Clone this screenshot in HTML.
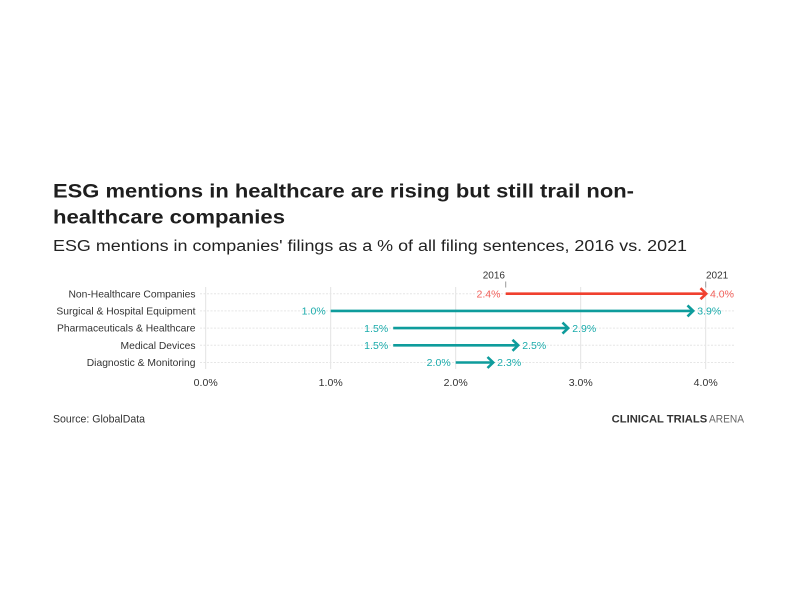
<!DOCTYPE html>
<html>
<head>
<meta charset="utf-8">
<style>
  html,body{margin:0;padding:0;background:#fff;}
  svg{display:block;}
  text{font-family:"Liberation Sans",sans-serif;}
</style>
</head>
<body>
<svg width="800" height="600" viewBox="0 0 800 600" xmlns="http://www.w3.org/2000/svg">
  <rect width="800" height="600" fill="#fff"/>
  <!-- Title -->
  <text x="53" y="197.3" font-size="19.5" font-weight="bold" fill="#1e1e1e" textLength="581" lengthAdjust="spacingAndGlyphs">ESG mentions in healthcare are rising but still trail non-</text>
  <text x="53" y="223.3" font-size="19.5" font-weight="bold" fill="#1e1e1e" textLength="232" lengthAdjust="spacingAndGlyphs">healthcare companies</text>
  <text x="53" y="251" font-size="15.5" fill="#222" textLength="634" lengthAdjust="spacingAndGlyphs">ESG mentions in companies' filings as a % of all filing sentences, 2016 vs. 2021</text>

  <!-- vertical gridlines -->
  <g stroke="#e3e3e3" stroke-width="1">
    <line x1="205.7" y1="287" x2="205.7" y2="369"/>
    <line x1="330.7" y1="287" x2="330.7" y2="369"/>
    <line x1="455.7" y1="287" x2="455.7" y2="369"/>
    <line x1="580.7" y1="287" x2="580.7" y2="369"/>
    <line x1="705.7" y1="287" x2="705.7" y2="369"/>
  </g>
  <!-- row gridlines -->
  <g stroke="#e6e6e6" stroke-width="1" stroke-dasharray="2,1.5">
    <line x1="200" y1="293.7" x2="735" y2="293.7"/>
    <line x1="200" y1="310.9" x2="735" y2="310.9"/>
    <line x1="200" y1="328.1" x2="735" y2="328.1"/>
    <line x1="200" y1="345.3" x2="735" y2="345.3"/>
    <line x1="200" y1="362.5" x2="735" y2="362.5"/>
  </g>

  <!-- year labels -->
  <text x="505" y="278.5" font-size="10" fill="#333" text-anchor="end">2016</text>
  <line x1="505.7" y1="281.5" x2="505.7" y2="287.5" stroke="#999" stroke-width="1"/>
  <text x="706" y="278.5" font-size="10" fill="#333" text-anchor="start">2021</text>
  <line x1="705.7" y1="281.5" x2="705.7" y2="287.5" stroke="#999" stroke-width="1"/>

  <!-- category labels -->
  <g font-size="10.3" fill="#333" text-anchor="end">
    <text x="195.5" y="297.3">Non-Healthcare Companies</text>
    <text x="195.5" y="314.5">Surgical &amp; Hospital Equipment</text>
    <text x="195.5" y="331.7">Pharmaceuticals &amp; Healthcare</text>
    <text x="195.5" y="348.9">Medical Devices</text>
    <text x="195.5" y="366.1">Diagnostic &amp; Monitoring</text>
  </g>

  <!-- Arrows -->
  <g stroke="#f0402f" stroke-width="2.6" fill="none" stroke-linejoin="miter">
    <line x1="505.7" y1="293.7" x2="705" y2="293.7"/>
    <polyline points="700.5,288.2 706.2,293.7 700.5,299.2"/>
  </g>
  <text x="500.5" y="297.4" font-size="10.5" fill="#f2605a" text-anchor="end" textLength="24" lengthAdjust="spacingAndGlyphs">2.4%</text>
  <text x="710" y="297.4" font-size="10.5" fill="#f2605a" text-anchor="start" textLength="24" lengthAdjust="spacingAndGlyphs">4.0%</text>

  <g stroke="#0e9c9c" stroke-width="2.6" fill="none" stroke-linejoin="miter">
    <line x1="330.7" y1="310.9" x2="692.5" y2="310.9"/>
    <polyline points="687.5,305.4 693.2,310.9 687.5,316.4"/>
    <line x1="393.2" y1="328.1" x2="567.5" y2="328.1"/>
    <polyline points="562.5,322.6 568.2,328.1 562.5,333.6"/>
    <line x1="393.2" y1="345.3" x2="517.5" y2="345.3"/>
    <polyline points="512.5,339.8 518.2,345.3 512.5,350.8"/>
    <line x1="455.7" y1="362.5" x2="492.5" y2="362.5"/>
    <polyline points="487.5,357 493.2,362.5 487.5,368"/>
  </g>
  <g font-size="10.5" fill="#1aabab">
    <text x="325.7" y="314.6" text-anchor="end" textLength="24" lengthAdjust="spacingAndGlyphs">1.0%</text>
    <text x="697.2" y="314.6" text-anchor="start" textLength="24" lengthAdjust="spacingAndGlyphs">3.9%</text>
    <text x="388.2" y="331.8" text-anchor="end" textLength="24" lengthAdjust="spacingAndGlyphs">1.5%</text>
    <text x="572.2" y="331.8" text-anchor="start" textLength="24" lengthAdjust="spacingAndGlyphs">2.9%</text>
    <text x="388.2" y="349" text-anchor="end" textLength="24" lengthAdjust="spacingAndGlyphs">1.5%</text>
    <text x="522.2" y="349" text-anchor="start" textLength="24" lengthAdjust="spacingAndGlyphs">2.5%</text>
    <text x="450.7" y="366.2" text-anchor="end" textLength="24" lengthAdjust="spacingAndGlyphs">2.0%</text>
    <text x="497.2" y="366.2" text-anchor="start" textLength="24" lengthAdjust="spacingAndGlyphs">2.3%</text>
  </g>

  <!-- x tick labels -->
  <g font-size="10.5" fill="#333" text-anchor="middle">
    <text x="205.7" y="386" textLength="24" lengthAdjust="spacingAndGlyphs">0.0%</text>
    <text x="330.7" y="386" textLength="24" lengthAdjust="spacingAndGlyphs">1.0%</text>
    <text x="455.7" y="386" textLength="24" lengthAdjust="spacingAndGlyphs">2.0%</text>
    <text x="580.7" y="386" textLength="24" lengthAdjust="spacingAndGlyphs">3.0%</text>
    <text x="705.7" y="386" textLength="24" lengthAdjust="spacingAndGlyphs">4.0%</text>
  </g>

  <!-- footer -->
  <text x="53" y="422.5" font-size="11" fill="#333" textLength="92" lengthAdjust="spacingAndGlyphs">Source: GlobalData</text>
  <text x="611.7" y="422.5" font-size="11" font-weight="bold" fill="#333" textLength="95.5" lengthAdjust="spacingAndGlyphs">CLINICAL TRIALS</text>
  <text x="709" y="422.5" font-size="11" fill="#666" textLength="35" lengthAdjust="spacingAndGlyphs">ARENA</text>
</svg>
</body>
</html>
